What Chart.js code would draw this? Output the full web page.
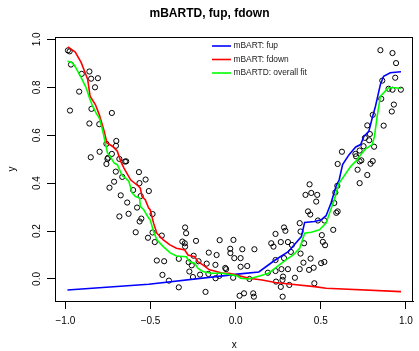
<!DOCTYPE html>
<html>
<head>
<meta charset="utf-8">
<script src="https://cdn.jsdelivr.net/npm/chart.js@4"></script>
<style>
  html, body { margin: 0; padding: 0; background: #fff; }
</style>
</head>
<body>
<canvas id="myChart" width="419" height="351"></canvas>
<script>
// observed points
var obsX = [-0.985,-0.975,-0.967,-0.904,-0.859,-0.849,-0.809,-0.826,-0.919,-0.973,-0.847,-0.727,-0.859,-0.801,-0.701,-0.703,-0.759,-0.799,-0.851,-0.749,
  -0.753,-0.759,-0.727,-0.683,-0.650,-0.643,-0.704,-0.666,-0.568,-0.529,-0.565,-0.714,-0.741,-0.602,-0.675,-0.558,-0.510,-0.637,-0.579,-0.629,
  -0.683,-0.554,-0.564,-0.587,-0.515,-0.488,-0.488,-0.475,-0.434,-0.463,-0.420,-0.430,-0.392,-0.334,-0.297,-0.291,-0.313,-0.299,-0.297,-0.233,
  -0.334,-0.247,-0.276,-0.258,-0.272,-0.251,-0.218,-0.209,-0.158,-0.170,-0.160,-0.118,-0.112,-0.119,-0.094,-0.061,-0.056,-0.096,-0.032,-0.031,
  -0.013,-0.008,-0.015,-0.177,0.029,0.039,0.110,0.068,0.029,0.081,0.103,0.107,0.049,0.023,0.234,0.284,0.292,0.209,0.222,0.265,
  0.307,0.234,0.284,0.330,0.324,0.381,0.376,0.381,0.402,0.434,0.410,0.444,0.479,0.473,0.425,0.438,0.483,0.521,0.506,0.512,
  0.440,0.398,0.502,0.458,0.431,0.376,0.269,0.307,0.234,0.189,0.278,0.275,0.237,0.265,0.315,0.276,0.462,0.850,0.921,0.942,
  0.937,0.861,0.898,0.921,0.970,0.855,0.929,0.917,0.805,0.869,0.773,0.788,0.784,0.759,0.751,0.813,0.624,0.703,0.707,0.728,
  0.728,0.805,0.792,0.738,0.599,0.716,0.773,0.728,0.597,0.585,0.579,0.599,0.591,0.573,0.525,0.521,0.348];
var obsY = [0.954,0.950,0.895,0.856,0.866,0.836,0.838,0.800,0.782,0.703,0.710,0.693,0.649,0.646,0.576,0.556,0.564,0.531,0.508,0.506,
  0.501,0.480,0.522,0.501,0.490,0.491,0.448,0.426,0.446,0.415,0.400,0.406,0.381,0.371,0.349,0.346,0.367,0.319,0.298,0.272,
  0.261,0.252,0.240,0.195,0.172,0.271,0.194,0.154,0.181,0.077,0.074,0.017,-0.007,-0.035,0.215,0.191,0.156,0.149,0.135,0.159,
  0.084,0.097,0.070,0.057,0.031,0.008,0.074,0.018,0.110,0.064,0.021,0.003,0.100,0.059,0.162,0.046,0.041,0.013,0.126,0.108,
  0.163,0.087,0.005,-0.054,0.087,0.124,0.124,0.054,0.051,0.000,-0.060,-0.074,-0.060,-0.070,0.188,0.215,0.201,0.149,0.135,0.154,
  0.154,0.079,0.087,0.142,0.113,0.106,0.233,0.198,0.149,0.395,0.351,0.359,0.351,0.323,0.282,0.269,0.244,0.244,0.183,0.155,
  0.085,0.068,0.066,0.047,0.038,0.041,0.041,0.041,0.033,0.026,0.010,-0.004,-0.011,-0.033,-0.025,-0.074,-0.018,0.955,0.943,0.901,
  0.840,0.828,0.794,0.790,0.790,0.752,0.728,0.699,0.685,0.640,0.641,0.605,0.579,0.589,0.554,0.552,0.531,0.522,0.512,0.536,
  0.491,0.492,0.481,0.495,0.480,0.456,0.434,0.400,0.389,0.361,0.317,0.282,0.276,0.205,0.141,0.071,0.005];

// mBART: fup
var fupX = [-0.988,-0.511,-0.077,0.010,0.136,0.232,0.309,0.386,0.405,0.463,0.502,0.531,0.560,0.589,0.608,0.628,0.666,0.705,0.734,0.753,0.782,0.802,0.821,0.850,0.869,0.908,0.937,0.971];
var fupY = [-0.046,-0.022,0.013,0.020,0.029,0.079,0.114,0.177,0.236,0.240,0.247,0.264,0.317,0.386,0.414,0.477,0.519,0.551,0.561,0.595,0.616,0.672,0.721,0.812,0.846,0.861,0.863,0.865];

// mBART: fdown
var fdownX = [-0.985,-0.942,-0.907,-0.884,-0.869,-0.855,-0.824,-0.801,-0.772,-0.756,-0.724,-0.695,-0.675,-0.656,-0.617,-0.569,-0.560,-0.550,-0.531,-0.511,-0.502,
  -0.482,-0.463,-0.425,-0.386,-0.348,-0.299,-0.280,-0.241,-0.222,-0.193,-0.154,-0.125,-0.077,-0.038,0.010,0.078,0.155,0.232,0.328,0.463,0.531,0.971];
var fdownY = [0.969,0.947,0.903,0.861,0.833,0.763,0.728,0.686,0.616,0.568,0.554,0.533,0.491,0.463,0.414,0.386,0.379,0.344,0.331,0.296,0.289,
  0.233,0.191,0.163,0.142,0.128,0.121,0.100,0.093,0.072,0.059,0.038,0.033,0.024,0.024,0.015,0.003,-0.004,-0.015,-0.022,-0.032,-0.039,-0.053];

// mBARTD: overall fit
var fitX = [-0.988,-0.965,-0.946,-0.927,-0.907,-0.878,-0.859,-0.840,-0.820,-0.801,-0.782,-0.772,-0.753,-0.743,-0.714,-0.695,-0.666,-0.646,-0.627,-0.608,-0.588,-0.564,-0.560,-0.540,-0.511,
  -0.502,-0.482,-0.463,-0.425,-0.386,-0.348,-0.290,-0.270,-0.241,-0.222,-0.193,-0.145,-0.077,0.010,0.029,0.078,0.145,0.193,0.232,0.299,0.338,0.376,0.405,0.444,0.492,0.531,
  0.579,0.608,0.676,0.715,0.734,0.763,0.802,0.815,0.831,0.850,0.879,0.898,0.937,0.971];
var fitY = [0.909,0.905,0.891,0.867,0.840,0.798,0.756,0.721,0.693,0.672,0.623,0.589,0.526,0.519,0.484,0.477,0.431,0.421,0.407,0.359,0.344,0.338,0.303,0.289,0.254,
  0.247,0.198,0.163,0.135,0.110,0.096,0.093,0.072,0.066,0.045,0.031,0.024,0.024,0.013,0.003,0.000,0.013,0.024,0.045,0.082,0.100,0.128,0.191,0.195,0.205,0.233,
  0.331,0.400,0.470,0.498,0.519,0.543,0.561,0.595,0.679,0.763,0.784,0.798,0.798,0.795];

var xTicks = [-1, -0.5, 0, 0.5, 1];
var yTicks = [0, 0.2, 0.4, 0.6, 0.8, 1.0];
var legendOrder = ['mBART: fup', 'mBART: fdown', 'mBARTD: overall fit'];

function pairs(xs, ys) {
    var out = [];
    for (var i = 0; i < xs.length; i++) out.push({x: xs[i], y: ys[i]});
    return out;
}

function fmt(v) {
    return v.toFixed(1).replace('-', '\u2212');
}

var FONT = "'Liberation Sans', Arial, sans-serif";

// box around the plot region, like R's box()
var boxPlugin = {
    id: 'rbox',
    afterDraw: function(chart) {
        var a = chart.chartArea, ctx = chart.ctx;
        ctx.save();
        ctx.strokeStyle = '#000';
        ctx.lineWidth = 1;
        ctx.strokeRect(Math.round(a.left) + 0.5, Math.round(a.top) + 0.5,
            Math.round(a.right - a.left) - 1, Math.round(a.bottom - a.top));
        ctx.restore();
    }
};

// rotated y tick labels
var yLabelPlugin = {
    id: 'ylabels',
    afterDraw: function(chart) {
        var ctx = chart.ctx, sy = chart.scales.y;
        ctx.save();
        ctx.fillStyle = '#000';
        ctx.font = '10px ' + FONT;
        ctx.textAlign = 'center';
        ctx.textBaseline = 'middle';
        yTicks.forEach(function(v) {
            var py = sy.getPixelForValue(v);
            ctx.save();
            ctx.translate(37, py);
            ctx.rotate(-Math.PI / 2);
            ctx.fillText(fmt(v), 0, 0);
            ctx.restore();
        });
        ctx.restore();
    }
};

// legend without box, top of the plot
var legendPlugin = {
    id: 'rlegend',
    afterDraw: function(chart) {
        var ctx = chart.ctx;
        var x0 = 212, y0 = 46, rowH = 13.5;
        ctx.save();
        ctx.font = '8.4px ' + FONT;
        ctx.textAlign = 'left';
        ctx.textBaseline = 'middle';
        legendOrder.forEach(function(name, row) {
            var ds = chart.data.datasets.find(function(d) { return d.label === name; });
            var y = y0 + row * rowH;
            ctx.strokeStyle = ds.borderColor;
            ctx.lineWidth = 1.6;
            ctx.beginPath();
            ctx.moveTo(x0, y);
            ctx.lineTo(x0 + 19, y);
            ctx.stroke();
            ctx.fillStyle = '#222';
            ctx.fillText(ds.label, x0 + 21.5, y);
        });
        ctx.restore();
    }
};

var lineStyle = {
    type: 'line',
    borderWidth: 1.6,
    pointRadius: 0,
    tension: 0,
    fill: false
};

const ctx = document.getElementById('myChart').getContext('2d');
const myChart = new Chart(ctx, {
    data: {
        datasets: [
            Object.assign({}, lineStyle, {label: 'mBARTD: overall fit', data: pairs(fitX, fitY), borderColor: '#00FF00', order: 1}),
            Object.assign({}, lineStyle, {label: 'mBART: fdown', data: pairs(fdownX, fdownY), borderColor: '#FF0000', order: 2}),
            Object.assign({}, lineStyle, {label: 'mBART: fup', data: pairs(fupX, fupY), borderColor: '#0000FF', order: 3}),
            {
                type: 'scatter',
                label: 'data',
                data: pairs(obsX, obsY),
                pointStyle: 'circle',
                pointRadius: 2.6,
                borderWidth: 1,
                borderColor: '#000',
                backgroundColor: 'rgba(0,0,0,0)',
                order: 4
            }
        ]
    },
    options: {
        responsive: false,
        animation: false,
        devicePixelRatio: 1,
        layout: { padding: 0 },
        plugins: {
            legend: { display: false },
            tooltip: { enabled: false },
            title: {
                display: true,
                text: 'mBARTD, fup, fdown',
                color: '#000',
                font: { family: FONT, size: 12, weight: 'bold' },
                padding: { top: 6, bottom: 16.6 }
            }
        },
        scales: {
            x: {
                type: 'linear',
                min: -1.061,
                max: 1.043,
                afterBuildTicks: function(s) { s.ticks = xTicks.map(function(v) { return {value: v}; }); },
                afterFit: function(s) { s.height = 50; },
                ticks: {
                    color: '#000',
                    font: { family: FONT, size: 10 },
                    padding: 6,
                    maxRotation: 0,
                    callback: function(v) { return fmt(v); }
                },
                grid: { drawOnChartArea: false, drawTicks: true, tickLength: 8, color: '#000', lineWidth: 1 },
                border: { display: true, color: '#000', width: 1 },
                title: { display: true, text: 'x', color: '#000', font: { family: FONT, size: 10 }, padding: { top: 10, bottom: 0 } }
            },
            y: {
                type: 'linear',
                min: -0.092,
                max: 1.01,
                afterBuildTicks: function(s) { s.ticks = yTicks.map(function(v) { return {value: v}; }); },
                afterFit: function(s) { s.width = 55; },
                ticks: { display: false },
                grid: { drawOnChartArea: false, drawTicks: true, tickLength: 8, color: '#000', lineWidth: 1 },
                border: { display: true, color: '#000', width: 1 },
                title: { display: true, text: 'y', color: '#000', font: { family: FONT, size: 10 }, padding: { top: 6, bottom: 0 } }
            }
        }
    },
    plugins: [boxPlugin, yLabelPlugin, legendPlugin]
});
</script>
</body>
</html>
